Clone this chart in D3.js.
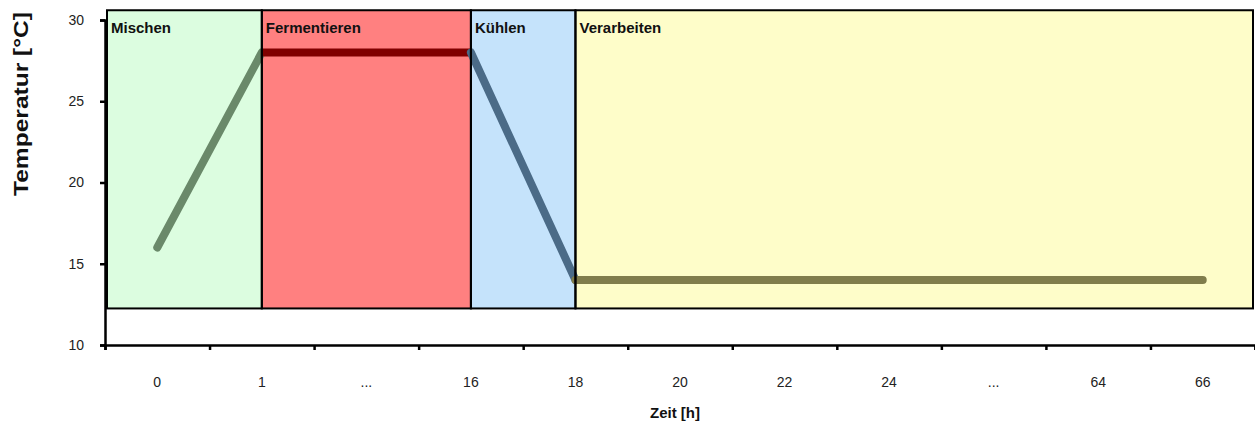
<!DOCTYPE html>
<html>
<head>
<meta charset="utf-8">
<script src="https://cdn.jsdelivr.net/npm/d3@7"></script>
<style>
  html, body { margin: 0; padding: 0; background: #ffffff; }
  svg { display: block; font-family: "Liberation Sans", Arial, sans-serif; }
</style>
</head>
<body>
<svg id="chart" width="1255" height="423"></svg>
<script>
// ---------- data ----------
const categories = ["0", "1", "...", "16", "18", "20", "22", "24", "...", "64", "66"];
const yTicks = [10, 15, 20, 25, 30];

const phaseNames = ["Mischen", "Fermentieren", "Kühlen", "Verarbeiten"];
// category index where each phase starts / ends (null = edge of the axis)
const phaseFrom = [null, 1, 3, 4];
const phaseTo = [1, 3, 4, null];
const phaseTempMin = 12.25;
const phaseTempMax = 30.6;

// temperature course per phase: [category index, temperature]
const mischenValues = [[0, 16], [1, 28]];
const fermentierenValues = [[1, 28], [3, 28]];
const kuehlenValues = [[3, 28], [4, 14]];
const verarbeitenValues = [[4, 14], [10, 14]];

const phaseFill = ["#dcfde0", "#ff8080", "#c5e3fb", "#fefdc9"];
const lineColor = ["#6a896a", "#800000", "#4b6b87", "#807d4b"];

// ---------- layout ----------
const svg = d3.select("#chart");
const mLeft = 105, mRight = 1255, mTop = 20, mBottom = 345;

const x = d3.scaleLinear().domain([-0.5, categories.length - 0.5]).range([mLeft, mRight]);
const y = d3.scaleLinear().domain([10, 30]).range([mBottom, mTop]);

const phases = phaseNames.map((n, i) => ({
  name: n,
  x0: phaseFrom[i] === null ? x.domain()[0] : phaseFrom[i],
  x1: phaseTo[i] === null ? x.domain()[1] : phaseTo[i],
  fill: phaseFill[i]
}));
const px0 = d => x(d.x0) + (d.x0 === x.domain()[0] ? 2 : 0);
const px1 = d => x(d.x1) - (d.x1 === x.domain()[1] ? 2 : 0);

const gBg = svg.append("g");
const gLines = svg.append("g");
const gBorder = svg.append("g");

gBg.selectAll("rect").data(phases).join("rect")
  .attr("x", px0)
  .attr("width", d => px1(d) - px0(d))
  .attr("y", y(phaseTempMax))
  .attr("height", y(phaseTempMin) - y(phaseTempMax))
  .attr("fill", d => d.fill);

const series = [mischenValues, fermentierenValues, kuehlenValues, verarbeitenValues];
const line = d3.line().x(d => x(d[0])).y(d => y(d[1]));
gLines.selectAll("path").data(series).join("path")
  .attr("d", line)
  .attr("fill", "none")
  .attr("stroke", (d, i) => lineColor[i])
  .attr("stroke-width", 8)
  .attr("stroke-linecap", (d, i) => i === 1 ? "butt" : "round");

gBorder.selectAll("rect").data(phases).join("rect")
  .attr("x", px0)
  .attr("width", d => px1(d) - px0(d))
  .attr("y", y(phaseTempMax))
  .attr("height", y(phaseTempMin) - y(phaseTempMax))
  .attr("fill", "none")
  .attr("stroke", "#000")
  .attr("stroke-width", 2);

// phase labels
svg.append("g").selectAll("text").data(phases).join("text")
  .attr("x", d => px0(d) + 4)
  .attr("y", 33)
  .attr("font-size", 15)
  .attr("font-weight", "bold")
  .attr("fill", "#111")
  .text(d => d.name);

// y axis
const yAxis = svg.append("g").attr("transform", `translate(${mLeft},0)`)
  .call(d3.axisLeft(y).tickValues(yTicks).tickSize(5).tickPadding(16));
yAxis.select(".domain").attr("stroke-width", 2.5);
yAxis.selectAll(".tick line").attr("stroke-width", 2.5);
yAxis.selectAll(".tick text").attr("font-size", 14).attr("fill", "#222")
  .attr("font-family", "Liberation Sans, Arial, sans-serif");

// x axis (ticks at category boundaries)
const boundaries = d3.range(categories.length + 1).map(i => i - 0.5);
const xAxis = svg.append("g").attr("transform", `translate(0,${mBottom})`)
  .call(d3.axisBottom(x).tickValues(boundaries).tickSize(5).tickFormat(""));
xAxis.select(".domain").attr("stroke-width", 2.5);
xAxis.selectAll(".tick line").attr("stroke-width", 2.5);

// category labels at centres
svg.append("g").selectAll("text").data(categories).join("text")
  .attr("x", (d, i) => x(i))
  .attr("y", 387)
  .attr("text-anchor", "middle")
  .attr("font-size", 14)
  .attr("fill", "#222")
  .text(d => d);

// axis titles
svg.append("text")
  .attr("x", 675).attr("y", 418)
  .attr("text-anchor", "middle")
  .attr("font-size", 15).attr("font-weight", "bold").attr("fill", "#111")
  .text("Zeit [h]");

svg.append("text")
  .attr("transform", "translate(28,104) rotate(-90)")
  .attr("text-anchor", "middle")
  .attr("font-size", 21).attr("font-weight", "bold").attr("fill", "#111")
  .attr("textLength", 184).attr("lengthAdjust", "spacingAndGlyphs")
  .text("Temperatur [°C]");
</script>
</body>
</html>
